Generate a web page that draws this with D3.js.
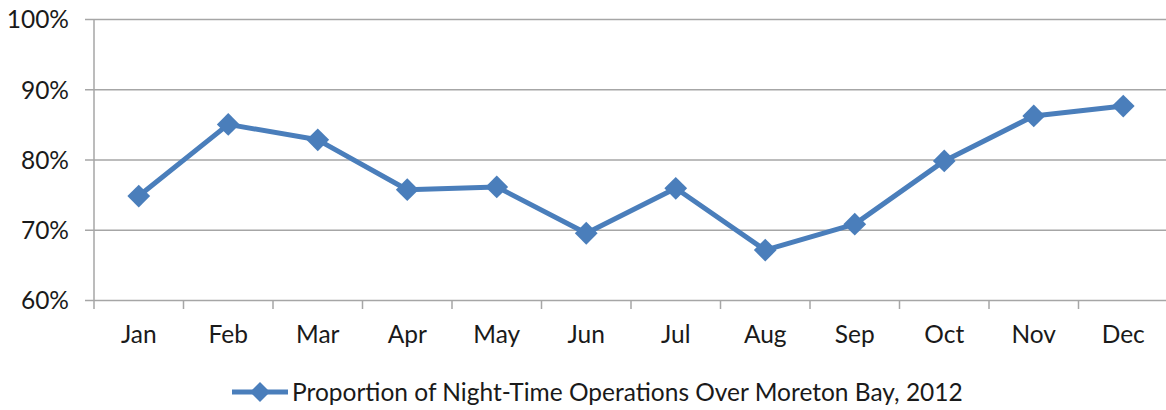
<!DOCTYPE html>
<html>
<head>
<meta charset="utf-8">
<script src="https://cdn.jsdelivr.net/npm/d3@7"></script>
<style>
  body { margin: 0; background: #fff; }
  text { font-family: Lato, "Open Sans", sans-serif; fill: #1a1a1a; }
</style>
</head>
<body>
<script>
// chart data
var months = ["Jan", "Feb", "Mar", "Apr", "May", "Jun", "Jul", "Aug", "Sep", "Oct", "Nov", "Dec"];
var proportion = [74.8, 85.0, 82.8, 75.7, 76.1, 69.5, 75.9, 67.1, 70.8, 79.8, 86.2, 87.6];
var yTicks = [60, 70, 80, 90, 100];
var seriesName = "Proportion of Night-Time Operations Over Moreton Bay, 2012";

var svgWidth = 1166;
var svgHeight = 410;
var margin = { top: 19, right: -2, bottom: 110, left: 94 };
var chartWidth = svgWidth - margin.left - margin.right;
var chartHeight = svgHeight - margin.top - margin.bottom;

var blue = "#4a7ebb";
var gridColor = "#a6a6a6";
var fontSize = 24.5;

var svg = d3.select("body")
  .append("svg")
  .attr("width", svgWidth)
  .attr("height", svgHeight);

var chartGroup = svg.append("g")
  .attr("transform", `translate(${margin.left}, ${margin.top})`);

var x = d3.scaleBand()
  .domain(months)
  .range([0, chartWidth]);

var y = d3.scaleLinear()
  .domain([60, 100])
  .range([chartHeight, 0]);

// horizontal gridlines + y labels
var leftAxis = d3.axisLeft(y)
  .tickValues(yTicks)
  .tickSize(-chartWidth)
  .tickPadding(25)
  .tickFormat(d => d + "%");

var yAxisG = chartGroup.append("g").call(leftAxis);
yAxisG.select(".domain").remove();
yAxisG.selectAll(".tick line")
  .attr("x2", chartWidth)
  .attr("x1", -9)
  .attr("stroke", gridColor)
  .attr("stroke-width", 1.5);
yAxisG.selectAll(".tick text")
  .attr("font-size", fontSize)
  .attr("dy", "0.36em");

// vertical axis line
chartGroup.append("line")
  .attr("x1", 0).attr("x2", 0)
  .attr("y1", 0).attr("y2", chartHeight + 9)
  .attr("stroke", gridColor)
  .attr("stroke-width", 1.5);

// category boundary ticks
chartGroup.selectAll(".cat-tick")
  .data(months.slice(1))
  .join("line")
  .attr("class", "cat-tick")
  .attr("x1", d => x(d)).attr("x2", d => x(d))
  .attr("y1", chartHeight).attr("y2", chartHeight + 9)
  .attr("stroke", gridColor)
  .attr("stroke-width", 1.5);

// month labels
var bottomAxis = d3.axisBottom(x).tickSize(0).tickPadding(26);
var xAxisG = chartGroup.append("g")
  .attr("transform", `translate(0, ${chartHeight})`)
  .call(bottomAxis);
xAxisG.select(".domain").remove();
xAxisG.selectAll(".tick text").attr("font-size", fontSize);

var cx = d => x(d) + x.bandwidth() / 2;

var drawLine = d3.line()
  .x((d, i) => cx(months[i]))
  .y(d => y(d));

chartGroup.append("path")
  .attr("d", drawLine(proportion))
  .attr("fill", "none")
  .attr("stroke", blue)
  .attr("stroke-width", 5)
  .attr("stroke-linejoin", "round");

var diamond = d3.symbol().type(d3.symbolSquare).size(260);

chartGroup.selectAll(".marker")
  .data(proportion)
  .join("path")
  .attr("class", "marker")
  .attr("d", diamond)
  .attr("fill", blue)
  .attr("transform", (d, i) => `translate(${cx(months[i])}, ${y(d)}) rotate(45)`);

// legend
var legend = svg.append("g").attr("transform", "translate(232, 392)");
legend.append("line")
  .attr("x1", 0).attr("x2", 56)
  .attr("stroke", blue)
  .attr("stroke-width", 5);
legend.append("path")
  .attr("d", d3.symbol().type(d3.symbolSquare).size(200))
  .attr("fill", blue)
  .attr("transform", "translate(28, 0) rotate(45)");
legend.append("text")
  .attr("x", 60)
  .attr("dy", "0.36em")
  .attr("font-size", fontSize)
  .text(seriesName);
</script>
</body>
</html>
